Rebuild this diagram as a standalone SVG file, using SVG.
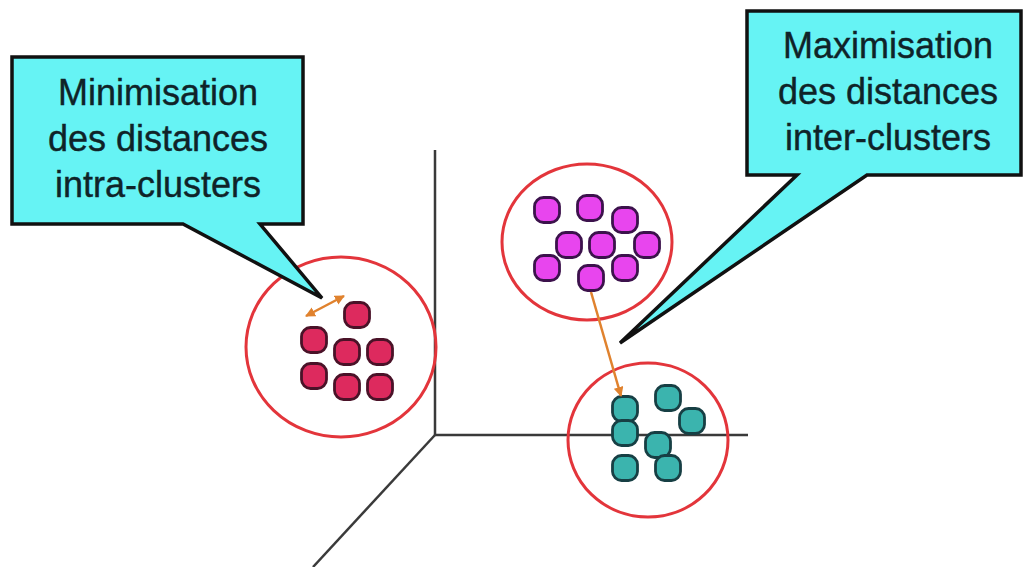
<svg xmlns="http://www.w3.org/2000/svg" width="1024" height="567" viewBox="0 0 1024 567">
  <style>
    .callout { fill: #66f3f4; stroke: #111; stroke-width: 3.5; stroke-linejoin: miter; }
    .label { font-family: "Liberation Sans", Arial, sans-serif; font-size: 36px; fill: #0f2328; stroke: #0f2328; stroke-width: 0.4; text-anchor: middle; }
    .axis { stroke: #3a3a3a; stroke-width: 2.5; fill: none; }
    .ring { fill: none; stroke: #e3353b; stroke-width: 3; }
    .dist { stroke: #e0822e; stroke-width: 2.5; fill: none; }
    .red { fill: #dd2a5e; stroke: #4a1228; stroke-width: 2.8; }
    .mag { fill: #e845ee; stroke: #3c124c; stroke-width: 2.8; }
    .teal { fill: #3bb4ae; stroke: #173f44; stroke-width: 2.8; }
  </style>
  <defs>
    <marker id="head" viewBox="0 0 10 10" refX="9" refY="5" markerWidth="4" markerHeight="4" orient="auto-start-reverse">
      <path d="M0,0 L10,5 L0,10 Z" fill="#e0822e" stroke="none"/>
    </marker>
    <!-- cluster point: fill and stroke come from the enclosing group -->
    <rect id="dot" x="-12.5" y="-12.5" width="25" height="25" rx="9"/>
  </defs>

  <rect width="1024" height="567" fill="#ffffff"/>

  <!-- 3D axes -->
  <g id="axes">
    <line class="axis" x1="435" y1="150" x2="435" y2="435"/>
    <line class="axis" x1="435" y1="435" x2="748" y2="435"/>
    <line class="axis" x1="435" y1="435" x2="313" y2="567"/>
  </g>

  <!-- cluster 1 -->
  <g id="cluster-red">
    <ellipse class="ring" cx="341" cy="347" rx="95" ry="90"/>
    <g class="red">
      <use href="#dot" x="357" y="315"/>
      <use href="#dot" x="314" y="340"/>
      <use href="#dot" x="347" y="352"/>
      <use href="#dot" x="380" y="352"/>
      <use href="#dot" x="314" y="376"/>
      <use href="#dot" x="347" y="387"/>
      <use href="#dot" x="380" y="387"/>
    </g>
  </g>

  <!-- cluster 2 -->
  <g id="cluster-magenta">
    <ellipse class="ring" cx="587" cy="242" rx="85" ry="78"/>
    <g class="mag">
      <use href="#dot" x="547" y="210"/>
      <use href="#dot" x="590" y="208"/>
      <use href="#dot" x="625" y="220"/>
      <use href="#dot" x="569" y="245"/>
      <use href="#dot" x="602" y="245"/>
      <use href="#dot" x="647" y="245"/>
      <use href="#dot" x="547" y="268"/>
      <use href="#dot" x="625" y="268"/>
      <use href="#dot" x="591" y="278"/>
    </g>
  </g>

  <!-- cluster 3 -->
  <g id="cluster-teal">
    <ellipse class="ring" cx="648" cy="440" rx="80" ry="77"/>
    <g class="teal">
      <use href="#dot" x="668" y="398"/>
      <use href="#dot" x="692" y="421"/>
      <use href="#dot" x="625" y="409"/>
      <use href="#dot" x="625" y="433"/>
      <use href="#dot" x="658" y="445"/>
      <use href="#dot" x="625" y="468"/>
      <use href="#dot" x="668" y="468"/>
    </g>
  </g>

  <!-- distance arrows -->
  <g id="connectors">
    <line class="dist" x1="306" y1="316" x2="344" y2="296" marker-start="url(#head)" marker-end="url(#head)"/>
    <line class="dist" x1="591" y1="292" x2="621" y2="396" marker-end="url(#head)"/>
  </g>

  <!-- callouts -->
  <g id="callout-intra">
    <path class="callout" d="M12,57 H303 V224 H260 L322,298 L183,224 H12 Z"/>
    <text class="label" x="158" y="105">Minimisation</text>
    <text class="label" x="158" y="151">des distances</text>
    <text class="label" x="158" y="197">intra-clusters</text>
  </g>

  <g id="callout-inter">
    <path class="callout" d="M747,11 H1021 V175 H867 L620,343 L797,175 H747 Z"/>
    <text class="label" x="888" y="58">Maximisation</text>
    <text class="label" x="888" y="104">des distances</text>
    <text class="label" x="888" y="150">inter-clusters</text>
  </g>
</svg>
